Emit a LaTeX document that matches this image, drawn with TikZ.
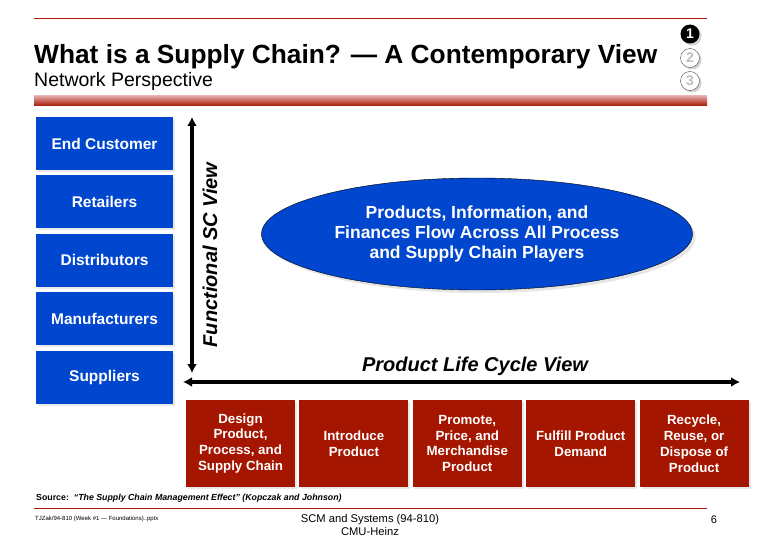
\documentclass[tikz,border=0pt]{standalone}
\usepackage{fontspec}
\setmainfont{Liberation Sans}
\usetikzlibrary{positioning,arrows.meta,shapes.geometric,shadows}
\definecolor{scblue}{RGB}{0,70,206}
\definecolor{scred}{RGB}{165,22,0}
\definecolor{ruled}{RGB}{175,25,10}
\newcommand{\fs}[1]{\fontsize{#1}{\fpeval{1.2*#1}}\selectfont}
\begin{document}
\begin{tikzpicture}[x=1pt,y=-1pt,
  player/.style={fill=scblue,text=white,font=\bfseries\fs{15.5},minimum width=137pt,minimum height=53pt,inner sep=0pt,
    drop shadow={shadow xshift=2pt,shadow yshift=-2pt,fill=black!18}},
  phase/.style={fill=scred,text=white,font=\bfseries\fs{13.3},align=center,minimum width=109pt,minimum height=87pt,inner sep=0pt,
    drop shadow={shadow xshift=2pt,shadow yshift=-2pt,fill=black!18}},
  step num/.style={circle,minimum size=19pt,inner sep=0pt,font=\bfseries\fs{14},
    drop shadow={shadow xshift=2pt,shadow yshift=-2pt,fill=black!35}},
  view/.style={font=\bfseries\itshape\fs{20}},
  bothway/.style={{Latex[length=9pt,width=10pt]}-{Latex[length=9pt,width=10pt]},line width=3.2pt}]
\useasboundingbox (0,0) rectangle (764,551);
% header
\draw[ruled,line width=1pt] (34,19)--(707,19);
\node[anchor=base west,inner sep=0pt,font=\bfseries\fs{26.3}] (title) at (34,64) {What is a Supply Chain? --- A Contemporary View};
\node[anchor=base west,inner sep=0pt,font=\fs{19.5}] (subtitle) at (34,87) {Network Perspective};
\node[step num,fill=black,text=white] (n1) at (690,34) {1};
\node[step num,fill=white,draw=black!70,text=black!25] (n2) at (690,58) {2};
\node[step num,fill=white,draw=black!70,text=black!25] (n3) at (690,81) {3};
\shade[top color=red!70!black!35,bottom color=scred] (34,96) rectangle (707,106);
% supply chain players
\node[player] (cust) at (104.5,143.5) {End Customer};
\node[player,below=5pt of cust] (ret) {Retailers};
\node[player,below=5pt of ret] (dist) {Distributors};
\node[player,below=5pt of dist] (manu) {Manufacturers};
\node[player,below=5pt of manu] (supp) {Suppliers};
% views
\coordinate (ftop) at (192,117);
\coordinate (fbot) at (192,373);
\coordinate (pleft) at (183,382);
\coordinate (pright) at (740,382);
\draw[bothway] (ftop)--(fbot);
\draw[bothway] (pleft)--(pright);
\node[view,rotate=90] (fview) at (210,255) {Functional SC View};
\node[view] (pview) at (475,366) {Product Life Cycle View};
\node[ellipse,draw=black,thin,fill=scblue,text=white,minimum width=431pt,minimum height=112pt,inner sep=0pt,
  font=\bfseries\fs{17.5},align=center,drop shadow={shadow xshift=3pt,shadow yshift=-3pt,fill=black!20}] (flow) at (477,234)
  {Products, Information, and\\[-1pt] Finances Flow Across All Process\\[-1pt] and Supply Chain Players};
% life cycle phases
\node[phase] (design) at (240.5,443.5) {Design\\ Product,\\ Process, and\\ Supply Chain};
\node[phase,right=4pt of design] (intro) {Introduce\\ Product};
\node[phase,right=4pt of intro] (promo) {Promote,\\ Price, and\\ Merchandise\\ Product};
\node[phase,right=4pt of promo] (fulfill) {Fulfill Product\\ Demand};
\node[phase,right=4pt of fulfill] (recycle) {Recycle,\\ Reuse, or\\ Dispose of\\ Product};
% footer
\node[anchor=base west,inner sep=0pt,font=\bfseries\fs{8.8}] (src) at (36,500) {Source:\ \ \itshape ``The Supply Chain Management Effect'' (Kopczak and Johnson)};
\draw[ruled] (34,508)--(707,508);
\node[anchor=base west,inner sep=0pt,font=\fs{6}] (file) at (35,520) {TJZak/94-810 (Week \#1 --- Foundations)..pptx};
\node[align=center,inner sep=0pt,font=\fs{11.2},anchor=north] (course) at (370,514) {SCM and Systems (94-810)\\ CMU-Heinz};
\node[inner sep=0pt,font=\fs{11}] (page) at (714,520) {6};
\end{tikzpicture}
\end{document}
